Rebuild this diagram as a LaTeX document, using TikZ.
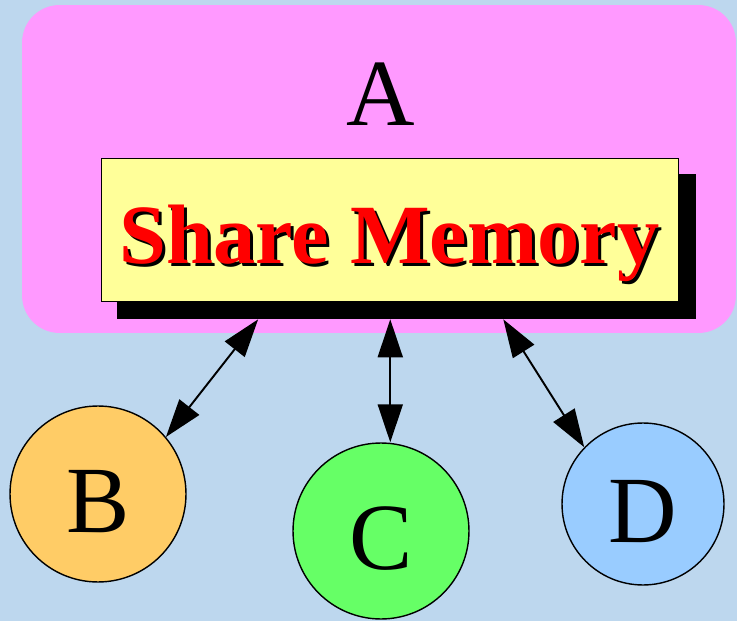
\documentclass[tikz,border=0pt]{standalone}
\usepackage{fontspec}
\setmainfont{Liberation Serif}
\usetikzlibrary{positioning,calc,arrows.meta}
\definecolor{bgblue}{HTML}{BDD7EE}
\definecolor{grppink}{HTML}{FF99FF}
\definecolor{memyellow}{HTML}{FFFF99}
\definecolor{borange}{HTML}{FFCC66}
\definecolor{cgreen}{HTML}{66FF66}
\definecolor{dblue}{HTML}{99CCFF}

\begin{document}
\begin{tikzpicture}[x=0.02cm,y=-0.02cm,>={Triangle[length=0.76cm,width=0.5cm]},
group node/.style={rectangle,rounded corners=0.75cm,fill=grppink,minimum width=14.28cm,minimum height=6.56cm,inner sep=0},
mem node/.style={rectangle,draw,line width=0.5pt,fill=memyellow,minimum width=11.54cm,minimum height=2.86cm,inner sep=0},
shadow node/.style={rectangle,fill=black,minimum width=11.58cm,minimum height=2.9cm,inner sep=0},
mem text/.style={font=\fontsize{48}{52}\selectfont\bfseries,inner sep=0},
main node/.style={circle,draw,line width=0.8pt,minimum size=3.52cm,inner sep=0,font=\fontsize{54}{58}\selectfont,text height=1.56cm,text depth=0cm},
link/.style={<->,line width=1.1pt}]
  \useasboundingbox[fill=bgblue] (0,0) rectangle (737,621);
% nodes
  \node[group node] (grpA) at (379,169) {};
  \node[font=\fontsize{54}{58}\selectfont,inner sep=0] (A) at (381,94) {A};
  \node[shadow node] (memshadow) at (406.5,246.5) {};
  \node[mem node] (mem) at (389.5,229.5) {};
  \node[mem text,text=black] (memtextshadow) at ($(mem)+(3,17)$) {Share Memory};
  \node[mem text,text=red] (memtext) at ($(mem)+(0,14)$) {Share Memory};
  \node[main node,fill=borange] (B) at (98,494) {B};
  \node[main node,fill=cgreen] (C) at (381,531) {C};
  \node[main node,fill=dblue,minimum size=3.24cm] (D) at (643,504) {D};
  %edges
  \coordinate (tB) at ($(memshadow.south west)!0.244!(memshadow.south east)$);
  \coordinate (tC) at ($(memshadow.south west)!0.472!(memshadow.south east)$);
  \coordinate (tD) at ($(memshadow.south west)!0.667!(memshadow.south east)$);
  \draw[link] (tB) -- (B.40);
  \draw[link] (tC) -- (tC |- C.north);
  \draw[link] (tD) -- (D.136);
\end{tikzpicture}
\end{document}
